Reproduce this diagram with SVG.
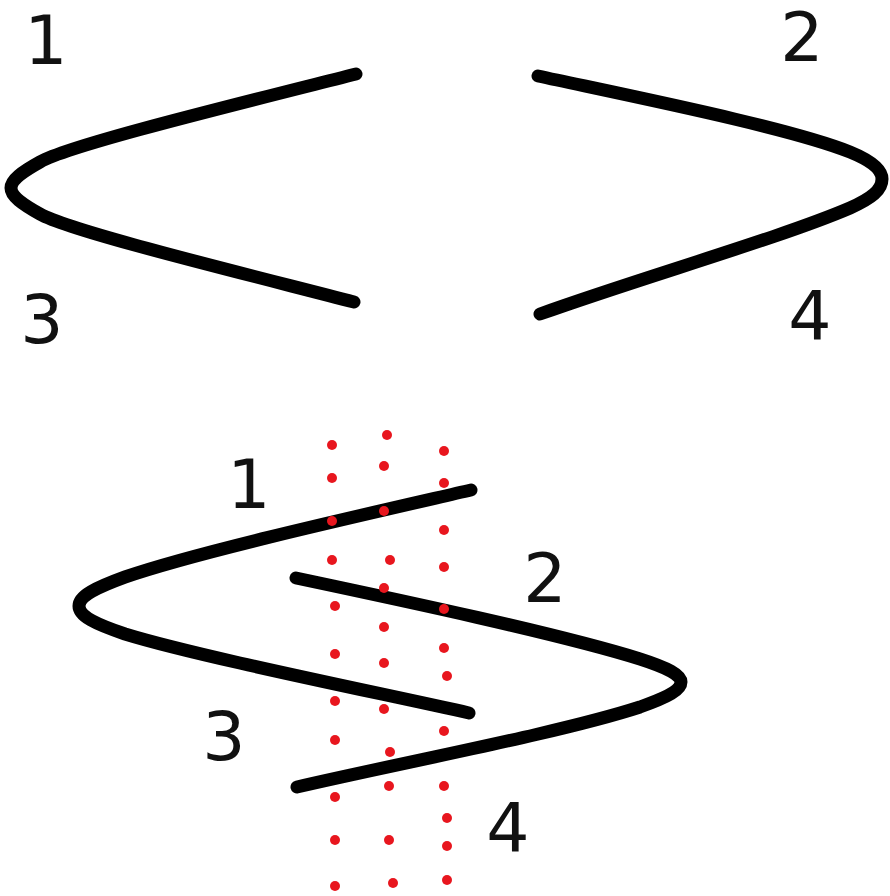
<svg xmlns="http://www.w3.org/2000/svg" width="890" height="896" viewBox="0 0 890 896">
<style>
.c{fill:none;stroke:#000;stroke-width:13;stroke-linecap:round;stroke-linejoin:round}
.t{font-family:"DejaVu Sans",sans-serif;font-size:68px;fill:#111;text-anchor:middle}
.d{fill:#e8161e}
</style>
<rect width="890" height="896" fill="#fff"/>
<g id="top">
<path class="c" d="M356,74 C230,106 70,145 40,162 C22,172 11,180 11,188 C11,196 22,204 40,214 C70,231 230,270 354,302"/>
<path class="c" d="M538,76 C640,98 790,128 850,152 C872,161 882,170 882,179 C882,190 872,198 850,208 C780,238 640,278 540,314"/>
<text class="t" x="46" y="64">1</text>
<text class="t" x="802" y="61">2</text>
<text class="t" x="42" y="343">3</text>
<text class="t" x="810" y="340">4</text>
</g>
<g id="bottom">
<path class="c" d="M471,490 C380,511 200,551 125,577 C95,588 79,596 79,606 C79,616 95,624 125,634 C200,657 380,693 469,713"/>
<path class="c" d="M296,578 C400,600 560,634 640,659 C668,668 681,675 681,682 C681,690 668,697 640,707 C560,733 400,763 297,787"/>
<text class="t" x="249" y="508">1</text>
<text class="t" x="545" y="602">2</text>
<text class="t" x="224" y="760">3</text>
<text class="t" x="508" y="852">4</text>
</g>
<g id="dots">
<circle class="d" cx="332" cy="445" r="5"/>
<circle class="d" cx="332" cy="478" r="5"/>
<circle class="d" cx="332" cy="521" r="5"/>
<circle class="d" cx="332" cy="560" r="5"/>
<circle class="d" cx="335" cy="606" r="5"/>
<circle class="d" cx="335" cy="654" r="5"/>
<circle class="d" cx="335" cy="701" r="5"/>
<circle class="d" cx="335" cy="740" r="5"/>
<circle class="d" cx="335" cy="797" r="5"/>
<circle class="d" cx="335" cy="840" r="5"/>
<circle class="d" cx="335" cy="886" r="5"/>
<circle class="d" cx="387" cy="435" r="5"/>
<circle class="d" cx="384" cy="466" r="5"/>
<circle class="d" cx="384" cy="511" r="5"/>
<circle class="d" cx="390" cy="560" r="5"/>
<circle class="d" cx="384" cy="588" r="5"/>
<circle class="d" cx="384" cy="627" r="5"/>
<circle class="d" cx="384" cy="663" r="5"/>
<circle class="d" cx="384" cy="709" r="5"/>
<circle class="d" cx="390" cy="752" r="5"/>
<circle class="d" cx="389" cy="786" r="5"/>
<circle class="d" cx="389" cy="840" r="5"/>
<circle class="d" cx="393" cy="883" r="5"/>
<circle class="d" cx="444" cy="451" r="5"/>
<circle class="d" cx="444" cy="483" r="5"/>
<circle class="d" cx="444" cy="530" r="5"/>
<circle class="d" cx="444" cy="567" r="5"/>
<circle class="d" cx="444" cy="609" r="5"/>
<circle class="d" cx="444" cy="648" r="5"/>
<circle class="d" cx="447" cy="676" r="5"/>
<circle class="d" cx="444" cy="731" r="5"/>
<circle class="d" cx="444" cy="786" r="5"/>
<circle class="d" cx="447" cy="818" r="5"/>
<circle class="d" cx="447" cy="846" r="5"/>
<circle class="d" cx="447" cy="880" r="5"/>
</g>
</svg>
